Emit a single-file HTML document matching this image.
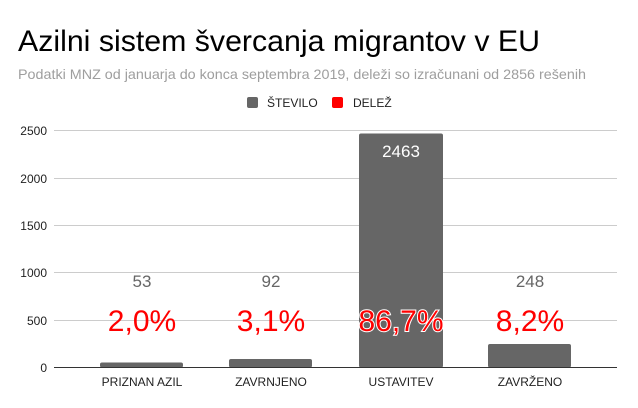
<!DOCTYPE html><html><head><meta charset="utf-8"><style>body{margin:0;background:#fff}svg{display:block;font-family:"Liberation Sans",sans-serif}</style></head><body>
<svg width="638" height="408" viewBox="0 0 638 408">
<rect width="638" height="408" fill="#fff"/>
<text x="18" y="51" font-size="30" fill="#000" textLength="522" lengthAdjust="spacingAndGlyphs">Azilni sistem švercanja migrantov v EU</text>
<text x="18" y="79" font-size="14" fill="#9e9e9e" textLength="568" lengthAdjust="spacingAndGlyphs">Podatki MNZ od januarja do konca septembra 2019, deleži so izračunani od 2856 rešenih</text>
<rect x="247" y="97" width="11" height="11" rx="2" fill="#666"/>
<text x="267" y="107" font-size="12" fill="#222">ŠTEVILO</text>
<rect x="332" y="97" width="11" height="11" rx="2" fill="#f00"/>
<text x="353" y="107" font-size="12" fill="#222">DELEŽ</text>
<g stroke="#ccc" stroke-width="1">
<line x1="54" x2="617" y1="130.5" y2="130.5"/><line x1="54" x2="617" y1="178.5" y2="178.5"/><line x1="54" x2="617" y1="225.5" y2="225.5"/><line x1="54" x2="617" y1="272.5" y2="272.5"/><line x1="54" x2="617" y1="320.5" y2="320.5"/>
</g>
<g font-size="12" fill="#222" text-anchor="end">
<text x="47" y="135">2500</text><text x="47" y="183">2000</text><text x="47" y="230">1500</text><text x="47" y="277">1000</text><text x="47" y="325">500</text><text x="47" y="372">0</text>
</g>
<g fill="#666">
<rect x="100" y="362.5" width="83" height="5" rx="2"/>
<rect x="229" y="359" width="83" height="8.5" rx="2"/>
<rect x="359" y="133.5" width="84" height="234" rx="2"/>
<rect x="488" y="344" width="83" height="23.5" rx="2"/>
</g>
<line x1="54" x2="617" y1="367.5" y2="367.5" stroke="#333"/>
<g font-size="17" text-anchor="middle">
<text x="142" y="287" fill="#666">53</text><text x="271" y="287" fill="#666">92</text>
<text x="401" y="157" fill="#fff">2463</text><text x="530" y="287" fill="#666">248</text>
</g>
<g font-size="30" text-anchor="middle" fill="#f00">
<text x="142" y="331">2,0%</text><text x="271" y="331">3,1%</text>
<text x="401" y="331" stroke="#fff" stroke-width="2" paint-order="stroke">86,7%</text><text x="530" y="331">8,2%</text>
</g>
<g font-size="12" fill="#222" text-anchor="middle">
<text x="142" y="386">PRIZNAN AZIL</text><text x="271" y="386">ZAVRNJENO</text><text x="401" y="386">USTAVITEV</text><text x="530" y="386">ZAVRŽENO</text>
</g>
</svg></body></html>
